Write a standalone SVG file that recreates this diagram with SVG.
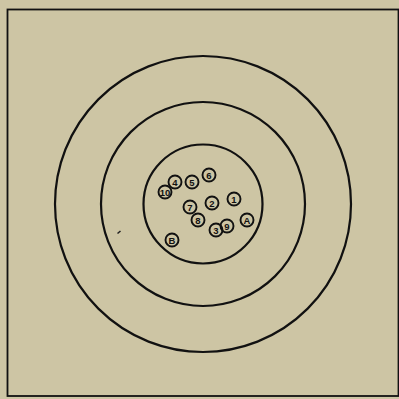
<svg xmlns="http://www.w3.org/2000/svg" width="399" height="399" viewBox="0 0 399 399">
<style>
.ring{fill:none;stroke:#111;stroke-width:2.2}
.shot circle{fill:none;stroke:#111;stroke-width:1.9}
.shot text{font-family:"Liberation Sans",Arial,sans-serif;font-size:9.5px;font-weight:bold;fill:#111;text-anchor:middle;dominant-baseline:central}
</style>
<rect x="0" y="0" width="399" height="399" fill="#cdc5a4"/>
<rect x="7.5" y="9.5" width="391" height="386.5" fill="none" stroke="#111" stroke-width="1.8"/>
<g id="target">
<circle class="ring" cx="203" cy="204" r="148"/>
<circle class="ring" cx="203" cy="204" r="102"/>
<circle class="ring" cx="203" cy="204" r="59.5"/>
</g>
<path d="M117.5 233.5 L120.5 231" stroke="#222" stroke-width="1.6" fill="none"/>
<g id="shot-10" class="shot"><circle cx="165" cy="192" r="6.5"/><text x="165" y="192" font-size="8">10</text></g>
<g id="shot-4" class="shot"><circle cx="175" cy="182" r="6.5"/><text x="175" y="182">4</text></g>
<g id="shot-5" class="shot"><circle cx="192" cy="182" r="6.5"/><text x="192" y="182">5</text></g>
<g id="shot-6" class="shot"><circle cx="209" cy="175" r="6.5"/><text x="209" y="175">6</text></g>
<g id="shot-1" class="shot"><circle cx="234" cy="199" r="6.5"/><text x="234" y="199">1</text></g>
<g id="shot-2" class="shot"><circle cx="212" cy="203" r="6.5"/><text x="212" y="203">2</text></g>
<g id="shot-7" class="shot"><circle cx="190" cy="207" r="6.5"/><text x="190" y="207">7</text></g>
<g id="shot-8" class="shot"><circle cx="198" cy="220" r="6.5"/><text x="198" y="220">8</text></g>
<g id="shot-3" class="shot"><circle cx="216" cy="230" r="6.5"/><text x="216" y="230">3</text></g>
<g id="shot-9" class="shot"><circle cx="227" cy="226" r="6.5"/><text x="227" y="226">9</text></g>
<g id="shot-A" class="shot"><circle cx="247" cy="220" r="6.5"/><text x="247" y="220">A</text></g>
<g id="shot-B" class="shot"><circle cx="172" cy="240" r="6.5"/><text x="172" y="240">B</text></g>
<g id="connectors"/>
</svg>
